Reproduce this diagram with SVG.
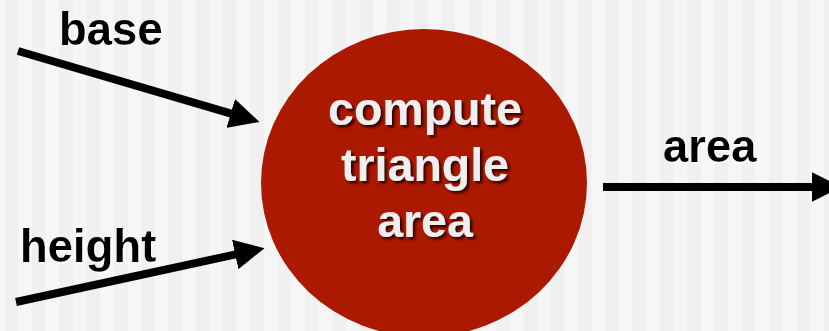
<svg xmlns="http://www.w3.org/2000/svg" width="829" height="331" viewBox="0 0 829 331">
  <defs>
    <pattern id="stripes" x="4.6" y="0" width="27.3" height="331" patternUnits="userSpaceOnUse">
      <rect x="0" y="0" width="13.65" height="331" fill="#f0f0f0"/>
      <rect x="13.65" y="0" width="13.65" height="331" fill="#f6f6f6"/>
    </pattern>
    <filter id="shadow" x="-10%" y="-10%" width="130%" height="140%">
      <feDropShadow dx="2.5" dy="2.5" stdDeviation="0.8" flood-color="#2a0500" flood-opacity="0.9"/>
    </filter>
    <filter id="glow" x="-10%" y="-10%" width="130%" height="140%">
      <feDropShadow dx="1.5" dy="1.5" stdDeviation="0.6" flood-color="#ffffff" flood-opacity="0.9"/>
    </filter>
    <marker id="head" viewBox="0 0 30 30" refX="0.5" refY="15" markerWidth="30" markerHeight="30" markerUnits="userSpaceOnUse" orient="auto">
      <path d="M0,0 L30,15 L0,30 Z" fill="#000"/>
    </marker>
  </defs>
  <style>
    .lbl { font-family: "Liberation Sans", Arial, sans-serif; font-weight: bold; font-size: 45.5px; fill: #000; }
    .inner { font-family: "Liberation Sans", Arial, sans-serif; font-weight: bold; font-size: 46.5px; fill: #efefef; text-anchor: middle; }
    .conn { stroke: #000; stroke-width: 8; fill: none; }
  </style>
  <rect x="0" y="0" width="829" height="331" fill="url(#stripes)"/>

  <g id="connectors">
    <line class="conn" x1="18" y1="51" x2="231.2" y2="113.6" marker-end="url(#head)"/>
    <line class="conn" x1="16" y1="302" x2="235.7" y2="254.4" marker-end="url(#head)"/>
    <line class="conn" x1="603" y1="187" x2="812" y2="187" marker-end="url(#head)"/>
  </g>

  <g id="node-compute">
    <ellipse cx="424" cy="183" rx="163" ry="154" fill="#ab1900"/>
    <text class="inner" filter="url(#shadow)"><tspan x="425" y="125">compute</tspan><tspan x="425" y="181">triangle</tspan><tspan x="425" y="237">area</tspan></text>
  </g>

  <g id="label-base">
    <text class="lbl" x="59" y="45" filter="url(#glow)">base</text>
  </g>
  <g id="label-height">
    <text class="lbl" x="20" y="262" filter="url(#glow)">height</text>
  </g>
  <g id="label-area">
    <text class="lbl" x="663" y="162" filter="url(#glow)">area</text>
  </g>
</svg>
